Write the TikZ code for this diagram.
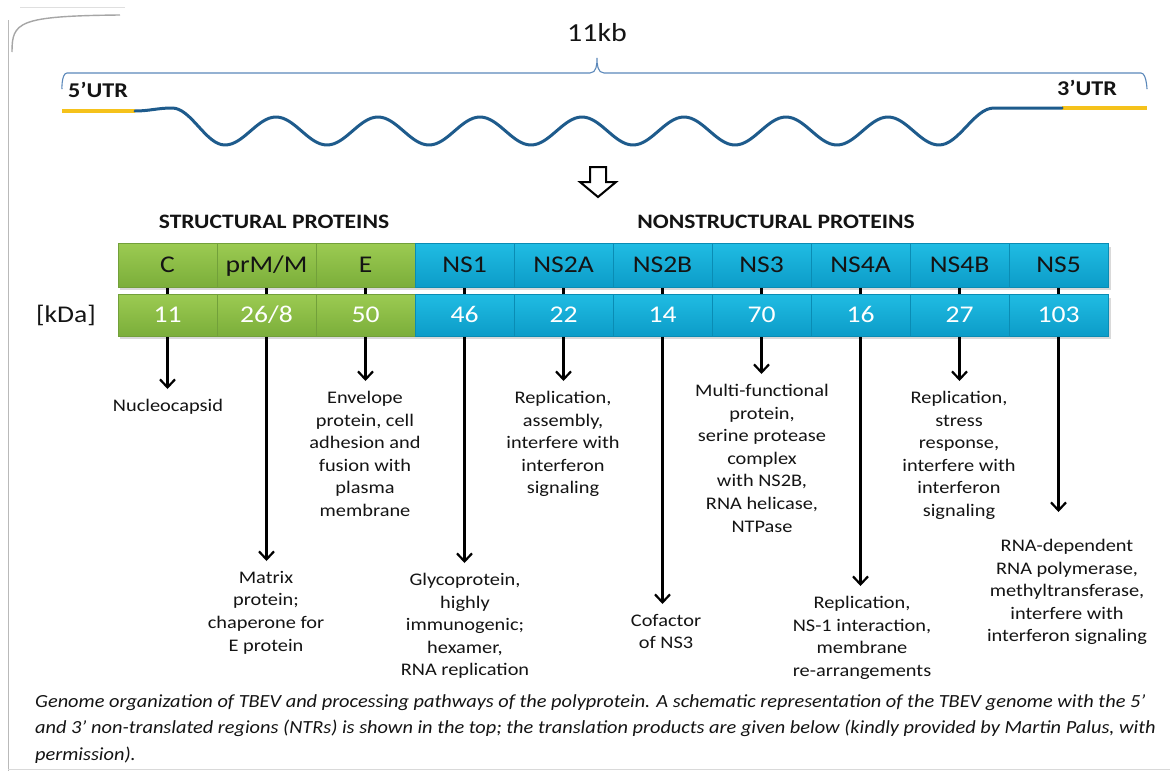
\documentclass[tikz,border=0pt]{standalone}
\usepackage{fontspec}
\setmainfont{Carlito}[FakeStretch=1.15]
\newfontfamily\capfont{Carlito}[FakeStretch=1.1]
\usetikzlibrary{arrows.meta,backgrounds}
\definecolor{gtop}{HTML}{9CCB52}
\definecolor{gbot}{HTML}{7BAE3A}
\definecolor{gline}{HTML}{72A03A}
\definecolor{btop}{HTML}{20BCE3}
\definecolor{bbot}{HTML}{0C9CC8}
\definecolor{bline}{HTML}{0A8CB4}
\definecolor{wavec}{HTML}{1E5B8C}
\definecolor{bracec}{HTML}{5B88BA}
\definecolor{utrc}{HTML}{F5C21B}
\definecolor{txt}{HTML}{141414}
\begin{document}
\begin{tikzpicture}[x=1pt,y=-1pt,
  cell/.style={minimum width=99pt, inner sep=0pt, line width=0.5pt, text height=15.5pt, text depth=0pt, font=\fontsize{24}{28}\selectfont},
  toprow/.style={cell, minimum height=44pt, text=txt},
  botrow/.style={cell, minimum height=42pt, text=white},
  gcell/.style={top color=gtop, bottom color=gbot, draw=gline},
  bcell/.style={top color=btop, bottom color=bbot, draw=bline},
  desc/.style={anchor=north, align=center, inner sep=0pt, text=txt, font=\fontsize{17.7}{22.6}\selectfont},
  arr/.style={line width=2.2pt, -{Straight Barb[length=8pt,width=15pt]}, shorten >=10pt},
  heading/.style={inner sep=0pt, text=txt, font=\bfseries\fontsize{20.5}{24}\selectfont},
  utrlabel/.style={inner sep=0pt, text=txt, font=\bfseries\fontsize{21}{24}\selectfont},
  utrline/.style={utrc, line width=4pt},
  wave/.style={wavec, line width=3pt, line cap=round, line join=round},
  brace/.style={bracec, line width=1.1pt}
]
\begin{pgfonlayer}{background}
\fill[white] (0,0) rectangle (1170,771);
\end{pgfonlayer}
\useasboundingbox (0,0) rectangle (1170,771);

% scan artefacts at the border
\draw[gray!55, line width=1pt] (8,20) -- (8,771);
\draw[gray!25, line width=0.8pt] (20,7) -- (125,7);
\draw[gray!70, line width=1.4pt] (12,52) .. controls (12,22) and (18,16) .. (120,15);
\draw[gray!30, line width=0.8pt] (8,769) -- (1170,769);

% title and brace
\node[inner sep=0pt, text=txt, font=\fontsize{26}{30}\selectfont] (kb) at (597,33) {11kb};
\draw[brace] (62,88) to[out=-90,in=180] (67,73) -- (590,73) to[out=0,in=-90] (597,58)
  to[out=-90,in=180] (604,73) -- (1141,73) to[out=0,in=-90] (1147,88);

\node[utrlabel] (u5) at (98,90) {5’UTR};
\node[utrlabel] (u3) at (1087,88) {3’UTR};

% genome
\draw[utrline] (62,111) -- (135,111);
\draw[utrline] (1062,108) -- (1147,108);
\draw[wave] (135,111) to[out=0,in=180] (172,108) cos (198.5,126.5) sin (225,145)
  \foreach \k in {1,...,7} { cos ++(25.5,-14) sin ++(25.5,-14) cos ++(25.5,14) sin ++(25.5,14) }
  cos (966,127) sin (994,108) to[out=0,in=180] (1062,108);

% hollow arrow
\draw[line width=2pt, fill=white, line join=miter] (590,167) -- (606,167) -- (606,182) -- (616,182) -- (598,197) -- (580,182) -- (590,182) -- cycle;

% headings
\node[heading] (hs) at (274,222) {STRUCTURAL PROTEINS};
\node[heading] (hn) at (776,222) {NONSTRUCTURAL PROTEINS};

% shadows
\fill[black, opacity=0.15] (120,247) rectangle (1111,290);
\fill[black, opacity=0.15] (120,298) rectangle (1111,339);

% protein cells
\foreach \i/\nm/\lab/\num/\sty in {0/C/C/11/gcell, 1/P/{prM/M}/{26/8}/gcell, 2/E/E/50/gcell,
  3/Sa/NS1/46/bcell, 4/Sb/NS2A/22/bcell, 5/Sc/NS2B/14/bcell, 6/Sd/NS3/70/bcell,
  7/Se/NS4A/16/bcell, 8/Sf/NS4B/27/bcell, 9/Sg/NS5/103/bcell}{
  \node[toprow, \sty] (n\nm) at ({167.5+99*\i},265) {\lab};
  \node[botrow, \sty] (k\nm) at ({167.5+99*\i},315) {\num};
}
\node[inner sep=0pt, text=txt, font=\fontsize{24}{28}\selectfont, text height=15.5pt, text depth=4pt] (kda) at (66,317) {[kDa]};

% functions
\node[desc] (dC) at (168,399) {Nucleocapsid};
\node[desc] (dP) at (266,571) {Matrix\\protein;\\chaperone for\\E protein};
\node[desc] (dE) at (365,391) {Envelope\\protein, cell\\adhesion and\\fusion with\\plasma\\membrane};
\node[desc] (dSa) at (465,573) {Glycoprotein,\\highly\\immunogenic;\\hexamer,\\RNA replication};
\node[desc] (dSb) at (563,391) {Replication,\\assembly,\\interfere with\\interferon\\signaling};
\node[desc] (dSc) at (666,614) {Cofactor\\of NS3};
\node[desc] (dSd) at (762,384) {Multi-functional\\protein,\\serine protease\\complex\\with NS2B,\\RNA helicase,\\NTPase};
\node[desc] (dSe) at (862,596) {Replication,\\NS-1 interaction,\\membrane\\re-arrangements};
\node[desc] (dSf) at (959,391) {Replication,\\stress\\response,\\interfere with\\interferon\\signaling};
\node[desc] (dSg) at (1067,539) {RNA-dependent\\RNA polymerase,\\methyltransferase,\\interfere with\\interferon signaling};

\begin{pgfonlayer}{background}
\foreach \nm in {C,P,E,Sa,Sb,Sc,Sd,Se,Sf}{
  \draw[arr] (n\nm.south) -- (n\nm.south |- d\nm.north);
}
\draw[arr, shorten >=27pt] (nSg.south) -- (nSg.south |- dSg.north);
\end{pgfonlayer}

% caption
\node[anchor=north west, align=left, inner sep=0pt, text=txt, font=\capfont\itshape\fontsize{18.5}{26.5}\selectfont] (cap) at (35,694)
{Genome organization of TBEV and processing pathways of the polyprotein. A schematic representation of the TBEV genome with the 5’\\
and 3’ non-translated regions (NTRs) is shown in the top; the translation products are given below (kindly provided by Martin Palus, with\\
permission).};
\end{tikzpicture}
\end{document}
